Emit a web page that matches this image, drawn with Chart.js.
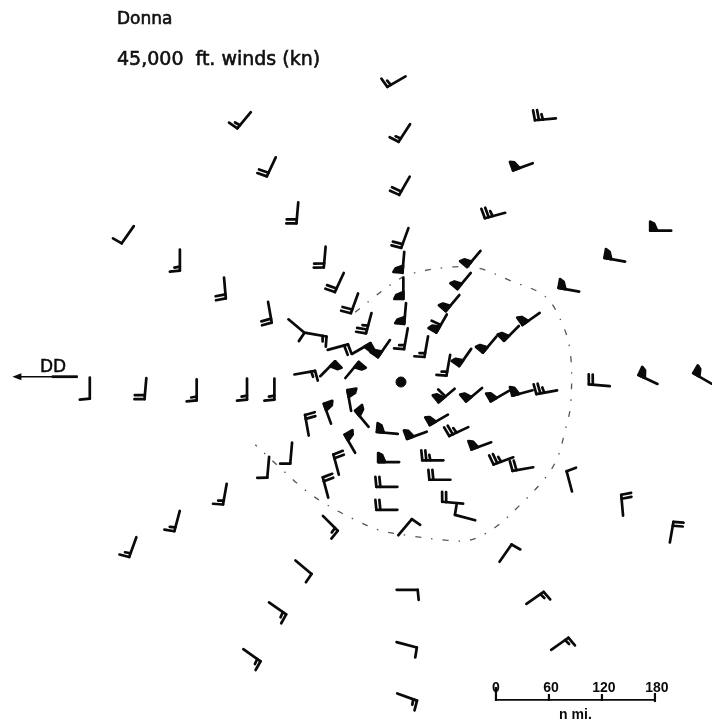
<!DOCTYPE html>
<html>
<head>
<meta charset="utf-8">
<title>Donna 45,000 ft winds</title>
<script src="https://cdn.jsdelivr.net/npm/chart.js@4/dist/chart.umd.min.js"></script>
<style>
  html, body { margin: 0; padding: 0; background: #fff; }
  #wrap { position: relative; width: 712px; height: 727px; overflow: hidden; }
  #chart { position: absolute; left: 0; top: 0; }
  .lbl { position: absolute; font-family: 'DejaVu Sans', sans-serif; color: #111; white-space: pre;
         -webkit-text-stroke: 0.6px #111; }
  #t1 { left: 117px; top: 10px; font-size: 17px; line-height: 17px; }
  #t2 { left: 117px; top: 49px; font-size: 19px; line-height: 19px; }
</style>
</head>
<body>
<div id="wrap">
  <canvas id="chart" width="712" height="727"></canvas>
  <div class="lbl" id="t1">Donna</div>
  <div class="lbl" id="t2">45,000  ft. winds (kn)</div>
</div>
<script>
// ── Observations (n mi east / north of the storm centre), 12 radials x 8 ─
// order: N, NNE, ENE, E, ESE, SSE, S, SSW, WSW, W, WNW, NNW (inner -> outer)
var obsX = [
     0,   -1,   -3,   -3,   -1,   -1,   -1,   -8,
    23,   41,   54,   67,   78,  105,  136,  163,
    48,   68,   96,  121,  144,  191,  243,  294,
    48,   79,  109,  136,  164,  225,  282,  344,
    40,   63,   89,  114,  137,  196,  256,  312,
    16,   36,   44,   59,   74,  123,  155,  183,
   -15,  -14,  -16,  -16,    9,    7,    5,    5,
   -40,  -53,  -68,  -80,  -84, -114, -143, -172,
   -53,  -78, -101, -130, -156, -205, -259, -309,
   -51,  -79, -108, -149, -180, -237, -295, -358,
   -42,  -70,  -97, -122, -154, -205, -256, -314,
   -24,  -42,  -58,  -75,  -92, -123, -152, -182
];
var obsY = [
    50,   78,  106,  136,  165,  225,  285,  345,
    41,   69,   93,  118,  143,  194,  249,  303,
    20,   31,   46,   59,   76,  110,  144,  177,
   -11,  -10,  -11,   -7,   -6,    2,    8,    9,
   -38,  -51,  -67,  -84,  -93, -111, -139, -171,
   -55,  -83, -105, -131, -148, -197, -249, -301,
   -52,  -85, -113, -139, -168, -241, -303, -362,
   -38,  -67,  -92, -118, -164, -214, -261, -314,
   -20,  -34,  -48,  -80,  -96, -126, -156, -185,
    10,   11,    5,   -8,   -8,   -9,   -7,   -7,
    33,   34,   48,   59,   78,  106,  138,  170,
    41,   68,   91,  115,  142,  192,  246,  300
];
// direction the wind blows from (deg)
var windDir = [
   190, 185, 180, 185, 200, 210, 213, 240,
   190, 210, 220, 220, 220, 255, 250, 265,
   190, 215, 220, 225, 235, 280, 280, 270,
   230, 230, 240, 255, 260, 275, 295, 300,
   240, 245, 250, 250, 260, 345, 355,  10,
   250, 270, 270, 275, 285,  35,  55,  55,
   275, 270, 270, 270,  40,  90, 105, 110,
   320, 330, 345, 345, 135, 130, 125, 125,
   350, 340, 350, 185, 185, 190, 195, 200,
    40,  45,  80, 180, 180, 180, 185, 180,
    60,  75, 100, 130, 170, 175, 180, 215,
   215, 195, 200, 205, 185, 185, 205, 220
];
// speed (kn)
var windSpd = [
   15, 50, 50, 50, 20, 20, 15, 15,
   15, 60, 50, 50, 50, 25, 50, 25,
   15, 50, 50, 50, 50, 50, 50, 50,
   60, 50, 50, 50, 25, 20, 50, 50,
   50, 25, 50, 25, 20, 10, 20, 20,
   50, 25, 20, 20, 10, 10, 15, 15,
   50, 50, 20, 20, 10, 10, 10, 15,
   50, 50, 20, 20, 15, 10, 15, 15,
   50, 50, 20, 10, 10, 15, 15, 15,
   50, 50, 15, 15, 15, 15, 20, 10,
   50, 20, 15, 10, 20, 20, 15, 10,
   50, 25, 20, 20, 20, 20, 20, 15
];

// dash-dot isotach around the core (n mi)
var isoX = [-52, -33, -12,  10,  55,  87, 123, 163, 183, 192, 192, 186, 177,
            163, 135, 106,  78,  50,  10, -24, -52, -84, -109, -137, -165];
var isoY = [ 79,  94, 110, 122, 130, 129, 115,  97,  65,  31, -26, -54, -86,
           -109, -139, -165, -179, -179, -174, -168, -156, -139, -122, -97, -71];

// distance scale bar
var scaleTicks  = [0, 60, 120, 180];
var scaleOrigin = [107.5, -360];
var scaleUnit   = 'n mi.';

// storm drift arrow
var ddLabel = 'DD';
var ddFrom  = [-366, 6];
var ddTo    = [-440, 6];

(function () {
  'use strict';

  var INK = '#0a0a0a';
  var STAFF = 21, FEATHER = 10, PEN_W = 7, GAP = 4;

  // wind barb: staff points toward where the wind comes from,
  // feathers on the right side (N hemisphere). Glyph centred on (cx, cy).
  function drawBarb(ctx, cx, cy, dir, spd) {
    var a = dir * Math.PI / 180;
    var dx = Math.sin(a), dy = -Math.cos(a);
    var px = -dy, py = dx;
    var sx = cx - dx * STAFF / 2 - px * FEATHER / 2;
    var sy = cy - dy * STAFF / 2 - py * FEATHER / 2;
    var tx = sx + dx * STAFF, ty = sy + dy * STAFF;

    ctx.beginPath();
    ctx.moveTo(sx, sy);
    ctx.lineTo(tx, ty);
    ctx.stroke();

    function feather(pos, len) {
      var bx = tx - dx * pos, by = ty - dy * pos;
      ctx.beginPath();
      ctx.moveTo(bx, by);
      ctx.lineTo(bx + px * len + dx * 1, by + py * len + dy * 1);
      ctx.stroke();
    }

    var left = Math.round(spd / 5) * 5, pos = 0;
    while (left >= 50) {
      // blocky pennant, as inked in the original
      var bx = tx - dx * pos, by = ty - dy * pos;
      ctx.beginPath();
      ctx.moveTo(bx, by);
      ctx.lineTo(bx + px * (FEATHER - 1), by + py * (FEATHER - 1));
      ctx.lineTo(bx + px * (FEATHER - 3) - dx * 4, by + py * (FEATHER - 3) - dy * 4);
      ctx.lineTo(bx - dx * PEN_W, by - dy * PEN_W);
      ctx.closePath();
      ctx.fill();
      ctx.stroke();
      pos += PEN_W + 2;
      left -= 50;
    }
    while (left >= 10) {
      feather(pos, FEATHER);
      pos += GAP;
      left -= 10;
    }
    if (left >= 5) {
      if (pos === 0) pos = GAP;
      feather(pos, FEATHER * 0.55);
    }
  }

  var barbPlugin = {
    id: 'windBarbs',
    afterDatasetsDraw: function (chart) {
      var ctx = chart.ctx;
      var meta = chart.getDatasetMeta(0);
      ctx.save();
      ctx.strokeStyle = INK;
      ctx.fillStyle = INK;
      ctx.lineWidth = 2.7;
      ctx.lineCap = 'round';
      ctx.lineJoin = 'round';
      meta.data.forEach(function (pt, i) {
        drawBarb(ctx, pt.x, pt.y, windDir[i], windSpd[i]);
      });
      ctx.restore();
    }
  };

  // ── scale bar and drift arrow ──────────────────────────────────────────
  var notesPlugin = {
    id: 'notes',
    afterDraw: function (chart) {
      var ctx = chart.ctx, xs = chart.scales.x, ys = chart.scales.y;
      ctx.save();
      ctx.strokeStyle = INK;
      ctx.fillStyle = INK;
      ctx.lineCap = 'butt';

      // scale bar
      var by = ys.getPixelForValue(scaleOrigin[1]);
      var px = scaleTicks.map(function (t) { return xs.getPixelForValue(scaleOrigin[0] + t); });
      var last = px.length - 1;
      ctx.lineWidth = 1.8;
      ctx.beginPath();
      ctx.moveTo(px[0], by);
      ctx.lineTo(px[last], by);
      ctx.stroke();
      ctx.lineWidth = 2.2;
      px.forEach(function (x, i) {
        ctx.beginPath();
        if (i === 0) { ctx.moveTo(x, by - 13); ctx.lineTo(x, by + 1); }
        else if (i === last) { ctx.moveTo(x, by - 7); ctx.lineTo(x, by + 2); }
        else { ctx.moveTo(x, by - 6); ctx.lineTo(x, by + 1); }
        ctx.stroke();
      });
      ctx.font = 'bold 14px "Liberation Sans", sans-serif';
      ctx.textAlign = 'center';
      ctx.textBaseline = 'alphabetic';
      scaleTicks.forEach(function (t, i) {
        ctx.fillText(String(t), px[i] + (i === 0 ? 0 : 2), by - 8);
      });
      ctx.fillText(scaleUnit, (px[0] + px[last]) / 2, by + 19);

      // drift arrow "DD"
      var ax0 = xs.getPixelForValue(ddFrom[0]), ax1 = xs.getPixelForValue(ddTo[0]);
      var ay = ys.getPixelForValue(ddFrom[1]);
      ctx.lineWidth = 1.6;
      ctx.beginPath();
      ctx.moveTo(ax0, ay);
      ctx.lineTo(ax1 + 6, ay);
      ctx.stroke();
      ctx.lineWidth = 2.8;
      ctx.beginPath();
      ctx.moveTo(ax0, ay);
      ctx.lineTo(ax0 - 26, ay);
      ctx.stroke();
      ctx.beginPath();
      ctx.moveTo(ax1, ay);
      ctx.lineTo(ax1 + 9, ay - 3.5);
      ctx.lineTo(ax1 + 9, ay + 3.5);
      ctx.closePath();
      ctx.fill();
      ctx.font = '17px "DejaVu Sans", sans-serif';
      ctx.lineWidth = 0.5;
      ctx.textAlign = 'center';
      ctx.fillText(ddLabel, (ax0 + ax1) / 2 + 8, ay - 5);
      ctx.strokeText(ddLabel, (ax0 + ax1) / 2 + 8, ay - 5);
      ctx.restore();
    }
  };

  var points = obsX.map(function (x, i) { return { x: x, y: obsY[i] }; });
  var iso = isoX.map(function (x, i) { return { x: x, y: isoY[i] }; });

  new Chart(document.getElementById('chart'), {
    type: 'scatter',
    data: {
      datasets: [{
        label: 'winds',
        data: points,
        pointRadius: 0,
        pointHoverRadius: 0,
      }, {
        label: 'isotach',
        data: iso,
        showLine: true,
        fill: false,
        tension: 0.35,
        borderColor: '#555',
        borderWidth: 1.3,
        borderDash: [6, 10, 1.5, 10],
        pointRadius: 0,
      }, {
        label: 'centre',
        data: [{ x: 0, y: 0 }],
        pointRadius: 5,
        backgroundColor: INK,
        borderColor: INK,
      }],
    },
    options: {
      responsive: false,
      animation: false,
      events: [],
      layout: { padding: 0, autoPadding: false },
      plugins: {
        legend: { display: false },
        tooltip: { enabled: false },
      },
      scales: {
        x: { type: 'linear', display: false, min: -454, max: 352.1 },
        y: { type: 'linear', display: false, min: -390.6, max: 432.5 },
      },
    },
    plugins: [barbPlugin, notesPlugin],
  });
})();
</script>
</body>
</html>
